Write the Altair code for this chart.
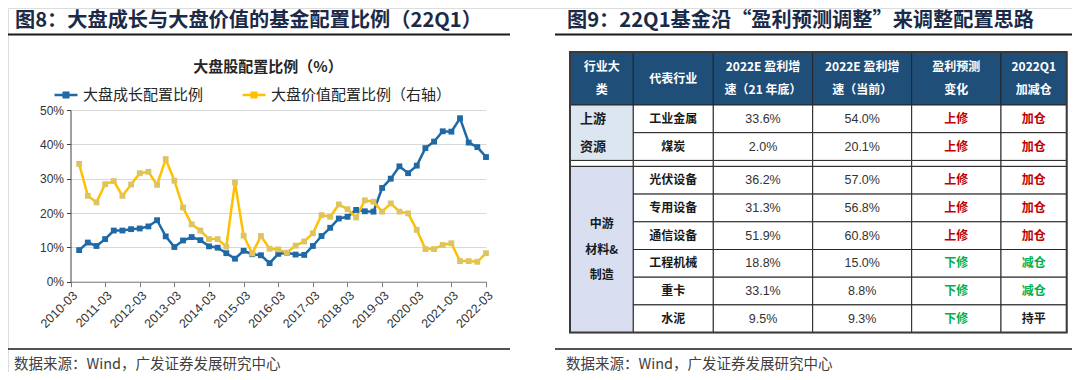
import altair as alt
import pandas as pd

# ---------------- left chart data ----------------
all_q = [f"{y}-{m:02d}" for y in range(2010, 2023) for m in (3, 6, 9, 12)]
quarters = all_q[1:49]  # 2010-06 ... 2022-03

growth = [9.2, 11.4, 10.4, 12.4, 14.9, 14.9, 15.3, 15.5, 16.1, 17.9, 13.2, 10.1,
          12.0, 13.0, 12.1, 10.3, 9.9, 8.3, 6.7, 9.0, 8.0, 7.7, 5.4, 8.1,
          8.4, 7.9, 7.8, 10.4, 13.3, 15.7, 18.4, 18.9, 20.9, 20.5, 20.4, 27.3,
          30.0, 33.6, 31.6, 33.8, 38.9, 40.8, 43.8, 43.7, 47.6, 40.5, 39.2, 36.3]
value = [34.3, 25.0, 23.1, 28.4, 29.3, 25.0, 28.3, 31.6, 32.0, 28.2, 35.7, 29.4,
         21.6, 16.7, 14.9, 12.4, 12.4, 10.2, 28.9, 13.4, 8.2, 13.3, 9.6, 9.4,
         8.4, 10.5, 11.7, 14.1, 19.4, 18.9, 22.5, 21.1, 18.7, 23.7, 23.3, 20.4,
         22.8, 20.4, 19.9, 15.1, 9.5, 9.5, 10.7, 11.2, 6.0, 6.0, 5.8, 8.3]
series_names = ["大盘成长配置比例", "大盘价值配置比例（右轴）"]
year_ticks = list(range(2010, 2023))
pct_ticks = list(range(0, 55, 5))

# ---------------- right table data ----------------
header_lines = [["行业大", "类"], ["代表行业"], ["2022E 盈利增", "速（21 年底）"],
                ["2022E 盈利增", "速（当前）"], ["盈利预测", "变化"], ["2022Q1", "加减仓"]]
groups = [["上游", "资源"], ["中游", "材料&", "制造"]]
group_sizes = [2, 6]
industries = ["工业金属", "煤炭", "光伏设备", "专用设备", "通信设备", "工程机械", "重卡", "水泥"]
growth_21 = ["33.6%", "2.0%", "36.2%", "31.3%", "51.9%", "18.8%", "33.1%", "9.5%"]
growth_now = ["54.0%", "20.1%", "57.0%", "56.8%", "60.8%", "15.0%", "8.8%", "9.3%"]
revision = ["上修", "上修", "上修", "上修", "上修", "下修", "下修", "下修"]
action = ["加仓", "加仓", "加仓", "加仓", "加仓", "减仓", "减仓", "持平"]

# ---------------- style / layout ----------------
CJK = "Noto Sans CJK SC"
LAT = "Liberation Sans"
BLUE = "#1F69A6"
YELLOW = "#FFC000"
KHAKI = "#DCC464"
TITLE_C = "#1B2A47"
W, H = 1064, 364

# plot area of line chart (pixels)
PX0, PX1 = 62.5, 478
PY0, PY1 = 273.7, 102

# table layout
T_X0, T_Y0 = 562, 44
col_w = [63.3, 80, 99.4, 99, 89.3, 65.7]
head_h, row_h, gap_h = 53, 27.7, 6
TW = sum(col_w)
TH = head_h + 8 * row_h + gap_h

# ---------------- left chart ----------------
rows = []
for i, q in enumerate(quarters):
    y, m = q.split("-")
    t = int(y) + (int(m) - 3) / 12
    rows.append({"t": t, "v": growth[i], "s": series_names[0]})
    rows.append({"t": t, "v": value[i], "s": series_names[1]})
ldf = pd.DataFrame(rows)

xs = alt.Scale(domain=[2010, 2022], range=[PX0, PX1], nice=False, zero=False)
ys = alt.Scale(domain=[0, 50], range=[PY0, PY1], nice=False)
xaxis = alt.Axis(values=year_ticks, labelExpr="datum.value + '-03'", labelAngle=-45,
                 labelOverlap=False, labelBound=False, labelFlush=False,
                 offset=PY0 - H, grid=False, tickSize=5, tickColor="#7F7F7F",
                 domainColor="#7F7F7F", labelFont=LAT, labelFontSize=12.5,
                 labelColor="#333333", labelPadding=2, title=None)
yaxis = alt.Axis(values=pct_ticks, labelExpr="datum.value + '%'", offset=-PX0,
                 labelOverlap=False, grid=True, gridColor="#D9D9D9", gridWidth=1.2,
                 tickSize=4, tickColor="#404040", domainColor="#404040", labelFont=LAT,
                 labelFontSize=12, labelColor="#333333", labelPadding=3, title=None)

sym = "M-1,0H1M-0.2,-0.2H0.2V0.2H-0.2Z"
line = alt.Chart(ldf).mark_line(strokeWidth=2.5).encode(
    x=alt.X("t:Q", scale=xs, axis=xaxis),
    y=alt.Y("v:Q", scale=ys, axis=yaxis),
    color=alt.Color("s:N", scale=alt.Scale(domain=series_names, range=[BLUE, YELLOW]),
                    legend=alt.Legend(orient="none", legendX=45, legendY=74,
                                      direction="horizontal", title=None,
                                      symbolType=sym, symbolSize=529,
                                      symbolStrokeWidth=2.5, labelFont=CJK,
                                      labelFontSize=15, labelColor="#262626",
                                      labelLimit=400, labelOffset=4,
                                      columnPadding=33, padding=0)),
)
pts = alt.Chart(ldf).mark_square(size=34, opacity=1).encode(
    x=alt.X("t:Q", scale=xs),
    y=alt.Y("v:Q", scale=ys),
    fill=alt.Fill("s:N", scale=alt.Scale(domain=series_names, range=[BLUE, KHAKI]), legend=None),
)
left = alt.layer(line, pts)

# ---------------- right table ----------------
x_edges = [0]
for w in col_w:
    x_edges.append(x_edges[-1] + w)
row_top = []
yy = head_h
for r in range(8):
    if r == 2:
        yy += gap_h
    row_top.append(yy)
    yy += row_h

cells = []
for c in range(6):
    cells.append({"x": x_edges[c], "x2": x_edges[c + 1], "y": 0, "y2": head_h, "f": "#1F4E79"})
    cells.append({"x": x_edges[c], "x2": x_edges[c + 1], "y": row_top[1] + row_h,
                  "y2": row_top[2], "f": "#FFFFFF"})
g_fill = ["#DCE6F1", "#D9DFF1"]
start = 0
for g, n in enumerate(group_sizes):
    cells.append({"x": 0, "x2": x_edges[1], "y": row_top[start],
                  "y2": row_top[start + n - 1] + row_h, "f": g_fill[g]})
    start += n
for r in range(8):
    for c in range(1, 6):
        cells.append({"x": x_edges[c], "x2": x_edges[c + 1], "y": row_top[r],
                      "y2": row_top[r] + row_h, "f": "#FFFFFF"})
cdf = pd.DataFrame(cells)

txs = alt.Scale(domain=[0, TW], range=[T_X0, T_X0 + TW], nice=False, zero=False)
tys = alt.Scale(domain=[0, TH], range=[T_Y0, T_Y0 + TH], nice=False, zero=False)

rects = alt.Chart(cdf).mark_rect(stroke="#262626", strokeWidth=1).encode(
    x=alt.X("x:Q", scale=txs, axis=None), x2="x2:Q",
    y=alt.Y("y:Q", scale=tys, axis=None), y2="y2:Q",
    fill=alt.Fill("f:N", scale=None),
)
border = alt.Chart(pd.DataFrame([{"x": 0, "x2": TW, "y": 0, "y2": TH}])).mark_rect(
    fill=None, stroke="#3A3A3A", strokeWidth=2).encode(
    x=alt.X("x:Q", scale=txs, axis=None), x2="x2:Q",
    y=alt.Y("y:Q", scale=tys, axis=None), y2="y2:Q")

# header text
htxt = []
for c, lines in enumerate(header_lines):
    cx = (x_edges[c] + x_edges[c + 1]) / 2
    n = len(lines)
    for k, s in enumerate(lines):
        off = (k - (n - 1) / 2) * 23.5
        htxt.append({"x": cx, "y": head_h / 2 + off, "t": s})
head_text = alt.Chart(pd.DataFrame(htxt)).mark_text(
    font=CJK, fontSize=12, fontWeight="bold", color="white").encode(
    x=alt.X("x:Q", scale=txs, axis=None), y=alt.Y("y:Q", scale=tys, axis=None), text="t:N")

# body CJK text
btxt = []
col_c = [(x_edges[c] + x_edges[c + 1]) / 2 for c in range(6)]
red, green, black = "#C00000", "#00B050", "#1A1A1A"
for r in range(8):
    cy = row_top[r] + row_h / 2
    btxt.append({"x": col_c[1], "y": cy, "t": industries[r], "c": black})
    btxt.append({"x": col_c[4], "y": cy, "t": revision[r],
                 "c": red if revision[r] == "上修" else green})
    ac = red if action[r] == "加仓" else (green if action[r] == "减仓" else black)
    btxt.append({"x": col_c[5], "y": cy, "t": action[r], "c": ac})
# group text (second group centred)
start = 2
mid = row_top[start] + group_sizes[1] * row_h / 2
for k, s in enumerate(groups[1]):
    btxt.append({"x": col_c[0], "y": mid + (k - 1) * 25.5, "t": s, "c": black})
body_text = alt.Chart(pd.DataFrame(btxt)).mark_text(
    font=CJK, fontSize=12, fontWeight="bold").encode(
    x=alt.X("x:Q", scale=txs, axis=None), y=alt.Y("y:Q", scale=tys, axis=None),
    text="t:N", color=alt.Color("c:N", scale=None))

gtxt = []
for k, s in enumerate(groups[0]):
    gtxt.append({"x": 10, "y": row_top[k] + row_h / 2, "t": s})
grp_text = alt.Chart(pd.DataFrame(gtxt)).mark_text(
    font=CJK, fontSize=13, fontWeight="bold", align="left", color=black).encode(
    x=alt.X("x:Q", scale=txs, axis=None), y=alt.Y("y:Q", scale=tys, axis=None), text="t:N")

ntxt = []
for r in range(8):
    cy = row_top[r] + row_h / 2
    ntxt.append({"x": col_c[2], "y": cy, "t": growth_21[r]})
    ntxt.append({"x": col_c[3], "y": cy, "t": growth_now[r]})
num_text = alt.Chart(pd.DataFrame(ntxt)).mark_text(
    font=LAT, fontSize=12.5, color="#333333").encode(
    x=alt.X("x:Q", scale=txs, axis=None), y=alt.Y("y:Q", scale=tys, axis=None), text="t:N")

right = alt.layer(rects, border, head_text, body_text, grp_text, num_text)

# ---------------- decorations ----------------
one = pd.DataFrame([{"a": 0}])


def txt(s, x, y, size, weight="normal", color="#333333", align="left", font=CJK):
    return alt.Chart(one).mark_text(text=s, font=font, fontSize=size, fontWeight=weight,
                                    color=color, align=align, baseline="middle").encode(
        x=alt.value(x), y=alt.value(y))


def hrule(x1, x2, y, w=1.5):
    return alt.Chart(one).mark_rule(color="#1A1A1A", strokeWidth=w).encode(
        x=alt.value(x1), x2=alt.value(x2), y=alt.value(y))


deco = alt.layer(
    txt("图8：大盘成长与大盘价值的基金配置比例（22Q1）", 7, 12.5, 20.2, "bold", TITLE_C),
    txt("图9：22Q1基金沿“盈利预测调整”来调整配置思路", 559, 12.5, 20.2, "bold", TITLE_C),
    hrule(0, 502, 26.5, 2), hrule(547, W, 26.5, 2),
    txt("大盘股配置比例（%）", 260, 59, 15, "bold", "#262626", "center"),
    hrule(0, 502, 341, 1.5), hrule(547, W, 341, 1.5),
    txt("数据来源：Wind，广发证券发展研究中心", 6, 356.5, 14.5, "normal", "#404040"),
    txt("数据来源：Wind，广发证券发展研究中心", 558, 356.5, 14.5, "normal", "#404040"),
)

chart = alt.layer(left, right, deco).resolve_scale(
    x="independent", y="independent", fill="independent", color="independent"
).properties(
    width=W, height=H, padding=0, autosize=alt.AutoSizeParams(type="none")
).configure_view(strokeWidth=0).configure(background="white")

chart.save("out.html", embed_options={"renderer": "svg", "actions": False})
